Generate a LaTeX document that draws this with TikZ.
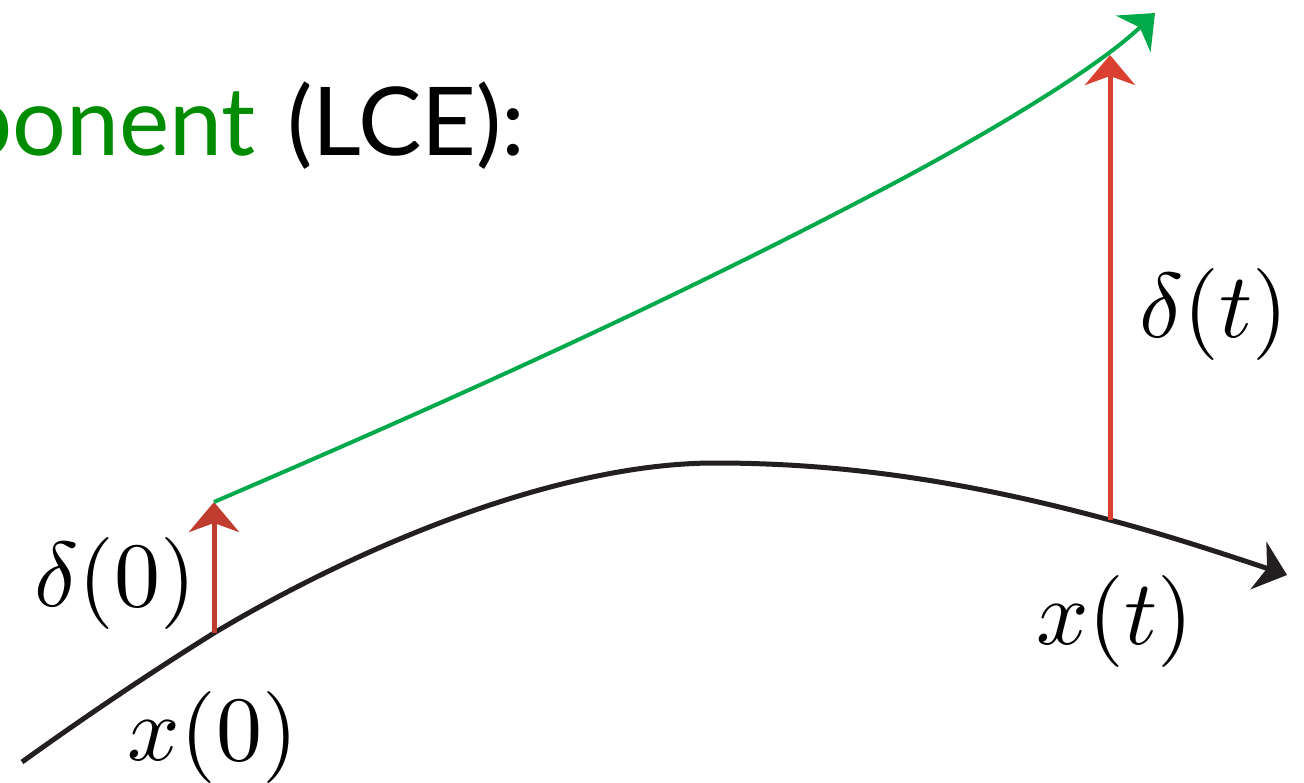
\documentclass[tikz,border=0pt]{standalone}
\usepackage{fontspec}
\newfontfamily\titlefont{Lato}
\usetikzlibrary{arrows.meta}
\definecolor{curvegreen}{RGB}{0,170,75}
\definecolor{textgreen}{RGB}{0,140,0}
\definecolor{redA}{RGB}{192,60,46}
\definecolor{redB}{RGB}{218,64,48}
\definecolor{curveblack}{RGB}{35,31,32}
\newcommand{\biglbl}[1]{\scalebox{9.2}{$#1$}}
\begin{document}
\begin{tikzpicture}[x=1pt,y=-1pt,
  tipstyle/.style={-{Stealth[length=30pt,width=50pt,inset=9pt]}},
  blackline/.style={draw=curveblack,line width=5pt,tipstyle},
  greenline/.style={draw=curvegreen,line width=4pt,tipstyle},
  redline/.style={line width=5pt,tipstyle},
  mathlbl/.style={inner sep=0pt},
  titletxt/.style={inner sep=0pt,font=\titlefont\fontsize{95}{100}\selectfont}]
\clip (0,0) rectangle (1304,782);
\fill[white] (0,0) rectangle (1304,782);
% title
\node[titletxt,text=textgreen,anchor=base east] (ttl1) at (256,155) {ponent};
\node[titletxt,text=black,anchor=base west] (ttl2) at (287,155) {(LCE):};
% points
\coordinate (s) at (22,762);
\coordinate (x0) at (214,633);
\coordinate (pk) at (715,463);
\coordinate (xt) at (1110,520);
\coordinate (e) at (1287,575);
\coordinate (g0) at (214,502);
\coordinate (gm) at (900,180);
\coordinate (g1) at (1155,13);
\coordinate (dt) at (1110,55);
% trajectory
\draw[blackline] (s) .. controls +(64,-46) and +(-64,40) .. (x0)
  .. controls +(140,-84) and +(-160,0) .. (pk)
  .. controls +(140,0) and +(-130,-35) .. (xt)
  .. controls +(60,16) and +(-60,-20) .. (e);
% separation vectors
\draw[redline,draw=redA,fill=redA] (x0) -- (g0);
\draw[redline,draw=redB,fill=redB] (xt) -- (dt);
% perturbed trajectory
\draw[greenline] (g0) .. controls +(230,-99) and +(-230,122) .. (gm)
  .. controls +(60,-32) and +(-65,62) .. (g1);
% labels
\node[mathlbl] (ld0) at (115,583) {\biglbl{\delta(0)}};
\node[mathlbl] (lx0) at (213,737) {\biglbl{x(0)}};
\node[mathlbl] (lxt) at (1115,621) {\biglbl{x(t)}};
\node[mathlbl] (ldt) at (1214,314) {\biglbl{\delta(t)}};
\end{tikzpicture}
\end{document}
